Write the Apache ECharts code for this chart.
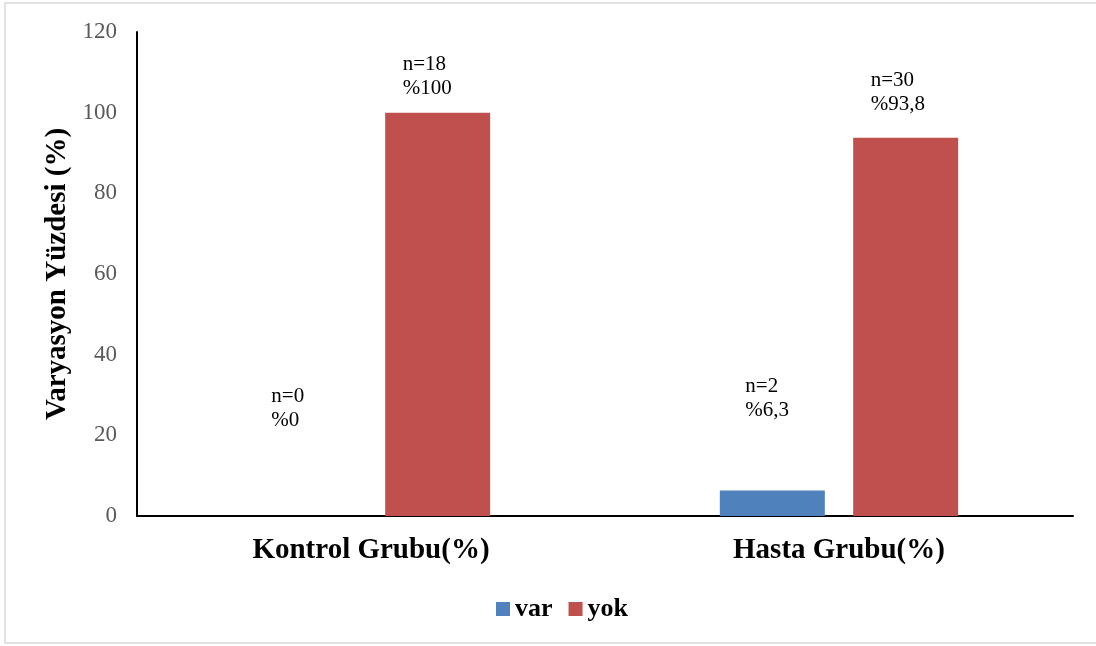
<!DOCTYPE html>
<html>
<head>
<meta charset="utf-8">
<script src="https://cdn.jsdelivr.net/npm/echarts@6/dist/echarts.min.js"></script>
<style>
  html, body { margin: 0; padding: 0; background: #ffffff; }
  #chart { width: 1096px; height: 646px; }
</style>
</head>
<body>
<div id="chart"></div>
<script>
// Groups and series
const categories = ['Kontrol Grubu(%)', 'Hasta Grubu(%)'];
const seriesNames = ['var', 'yok'];
// Percentages per group
const varPercent = [0, 6.3];
const yokPercent = [100, 93.8];
// Patient counts per group
const varCount = [0, 2];
const yokCount = [18, 30];
// Y axis ticks
const yTicks = [0, 20, 40, 60, 80, 100, 120];

const SERIF = '"Liberation Serif", "Times New Roman", serif';

// Label placement for each bar (x, y shift from the bar top)
const varLabelOffsets = [[-33, -84], [-27, -68]];
const yokLabelOffsets = [[-35, -12], [-35, -21]];

function pctText(v) {
  return '%' + String(v).replace('.', ',');
}

function buildData(values, counts, offsets) {
  return values.map((v, i) => ({
    value: v,
    count: counts[i],
    label: { offset: offsets[i] }
  }));
}

const labelStyle = {
  show: true,
  position: 'top',
  distance: 0,
  align: 'left',
  fontFamily: SERIF,
  fontSize: 21,
  lineHeight: 24,
  color: '#000000',
  formatter: (p) => 'n=' + p.data.count + '\n' + pctText(p.data.value)
};

const chart = echarts.init(document.getElementById('chart'), null, { renderer: 'canvas' });

chart.setOption({
  backgroundColor: '#ffffff',
  animation: false,
  graphic: [{
    type: 'rect',
    shape: { x: 5, y: 3, width: 1100, height: 640 },
    style: { fill: 'none', stroke: '#d9d9d9', lineWidth: 1.5 },
    silent: true
  }],
  grid: { left: 137, right: 23, top: 32, bottom: 130, containLabel: false },
  legend: {
    data: seriesNames,
    left: 491,
    top: 591,
    icon: 'rect',
    itemWidth: 14,
    itemHeight: 14,
    itemGap: 16,
    textStyle: { fontFamily: SERIF, fontSize: 26, fontWeight: 'bold', color: '#000000' }
  },
  xAxis: {
    type: 'category',
    data: categories,
    axisLine: { lineStyle: { color: '#000000', width: 2 } },
    axisTick: { show: false },
    axisLabel: {
      margin: 20,
      fontFamily: SERIF,
      fontSize: 29,
      fontWeight: 'bold',
      color: '#000000'
    }
  },
  yAxis: {
    type: 'value',
    min: yTicks[0],
    max: yTicks[yTicks.length - 1],
    interval: yTicks[1] - yTicks[0],
    name: 'Varyasyon Yüzdesi (%)',
    nameLocation: 'middle',
    nameGap: 62,
    nameRotate: 90,
    nameTextStyle: { fontFamily: SERIF, fontSize: 29, fontWeight: 'bold', color: '#000000' },
    axisLine: { show: true, lineStyle: { color: '#000000', width: 2 } },
    axisTick: { show: false },
    splitLine: { show: false },
    axisLabel: {
      margin: 20,
      fontFamily: SERIF,
      fontSize: 23,
      color: '#595959'
    }
  },
  series: [
    {
      name: seriesNames[0],
      type: 'bar',
      barWidth: 105,
      barGap: '27%',
      itemStyle: { color: '#4F81BD' },
      label: labelStyle,
      data: buildData(varPercent, varCount, varLabelOffsets)
    },
    {
      name: seriesNames[1],
      type: 'bar',
      barWidth: 105,
      barGap: '27%',
      itemStyle: { color: '#C0504D' },
      label: labelStyle,
      data: buildData(yokPercent, yokCount, yokLabelOffsets)
    }
  ]
});
</script>
</body>
</html>
